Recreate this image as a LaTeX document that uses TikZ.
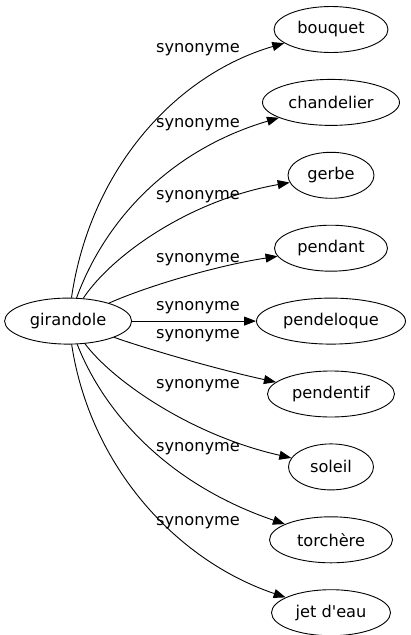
\documentclass[tikz,border=0pt]{standalone}
\usepackage{fontspec}
\setmainfont{DejaVu Sans}
\usepackage{tikz}
\usetikzlibrary{arrows.meta, positioning, shapes.geometric}

\tikzset{
    word/.style={draw, ellipse, inner sep=0pt, minimum height=46pt, line width=0.9pt, font=\fontsize{16.2pt}{19pt}\selectfont},
    synlabel/.style={anchor=base, inner sep=0pt, font=\fontsize{16.2pt}{19pt}\selectfont},
    link/.style={-{Triangle[length=12pt, width=9pt]}, line width=0.9pt}
}

\begin{document}
\begin{tikzpicture}[x=1pt, y=-1pt]
            \useasboundingbox (0,0) rectangle (410,635);
            \node (bouquet) [word, minimum width=114pt] at (331,29.5) {bouquet};
            \node (chandelier) [word, minimum width=137pt, below=26pt of bouquet] {chandelier};
            \node (gerbe) [word, minimum width=86pt, below=26pt of chandelier] {gerbe};
            \node (pendant) [word, minimum width=113pt, below=26pt of gerbe] {pendant};
            \node (pendeloque) [word, minimum width=149pt, below=26pt of pendant] {pendeloque};
            \node (pendentif) [word, minimum width=127pt, below=26pt of pendeloque] {pendentif};
            \node (soleil) [word, minimum width=85pt, below=26pt of pendentif] {soleil};
            \node (torchere) [word, minimum width=123pt, below=26pt of soleil] {torchère};
            \node (jet_deau) [word, minimum width=119pt, below=26pt of torchere] {jet d\textquotesingle eau};
            
                \node (girandole) [word, minimum width=127pt, left=124pt of pendeloque] {girandole};
            
                \node (syn_bouquet) [synlabel] at (198,52.8) {synonyme};
                \node (syn_chandelier) [synlabel] at (198,127.8) {synonyme};
                \node (syn_gerbe) [synlabel] at (198,199.5) {synonyme};
                \node (syn_pendant) [synlabel] at (198,262.8) {synonyme};
                \node (syn_pendeloque) [synlabel] at (198,310.5) {synonyme};
                \node (syn_pendentif) [synlabel] at (198,338.5) {synonyme};
                \node (syn_soleil) [synlabel] at (198,388.5) {synonyme};
                \node (syn_torchere) [synlabel] at (198,451.8) {synonyme};
                \node (syn_jet_deau) [synlabel] at (198,525.2) {synonyme};
            
                \draw[link] (girandole) .. controls (90,170) and (175,75) .. (bouquet);
                \draw[link] (girandole) .. controls (105,220) and (170,150) .. (chandelier);
                \draw[link] (girandole) .. controls (112,255) and (190,200) .. (gerbe);
                \draw[link] (girandole) .. controls (150,285) and (220,265) .. (pendant);
                \draw[link] (girandole) -- (pendeloque);
                \draw[link] (girandole) .. controls (150,350) and (220,370) .. (pendentif);
                \draw[link] (girandole) .. controls (112,380) and (190,435) .. (soleil);
                \draw[link] (girandole) .. controls (105,415) and (170,485) .. (torchere);
                \draw[link] (girandole) .. controls (90,465) and (175,560) .. (jet_deau);
            \end{tikzpicture}
\end{document}
